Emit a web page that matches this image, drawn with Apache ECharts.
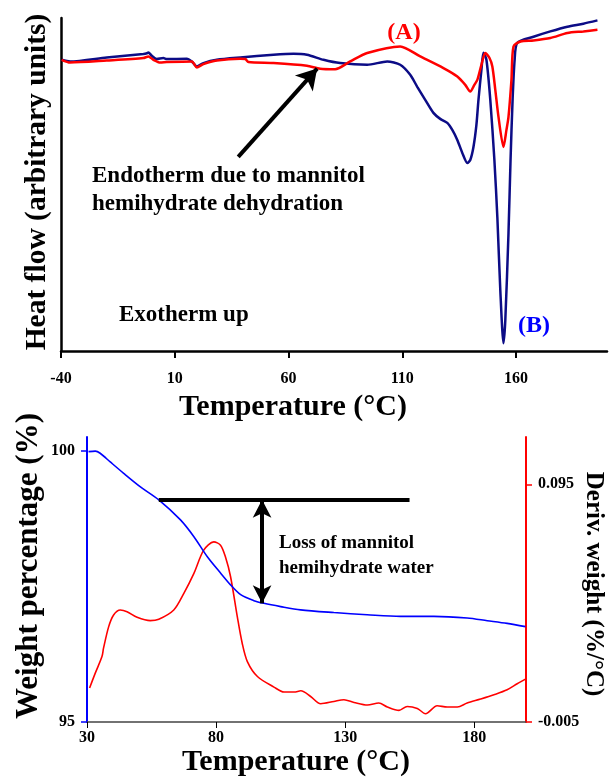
<!DOCTYPE html>
<html>
<head>
<meta charset="utf-8">
<script src="https://cdn.jsdelivr.net/npm/echarts@6/dist/echarts.min.js"></script>
<style>
  html, body { margin: 0; padding: 0; background: #fff; }
  #chart { width: 610px; height: 779px; }
</style>
</head>
<body>
<div id="chart"></div>
<script>
// ---- DSC traces (heat flow, arbitrary units, exotherm up) ----
const dscTempA = [-39.7, -36.0, -19.9, -3.8, -1.6, 0.6, 3.6, 6.5, 17.5, 19.7, 22.6, 28.5, 38.8, 41.0, 42.4, 53.4, 68.1, 73.9, 80.5, 87.1, 94.6, 109.1, 117.9, 128.1, 134.2, 137.7, 139.9, 141.7, 143.0, 144.8, 146.5, 148.3, 149.6, 150.9, 152.3, 154.5, 155.8, 156.7, 158.0, 158.9, 162.0, 167.7, 175.1, 182.6, 189.6, 195.8];
const dscFlowA = [87.45, 86.64, 87.24, 87.97, 88.45, 87.45, 86.64, 86.76, 86.94, 85.14, 86.16, 87.24, 87.76, 87.67, 86.76, 86.46, 85.65, 84.75, 84.60, 86.94, 89.47, 91.46, 88.45, 84.96, 82.43, 79.93, 77.92, 79.93, 81.44, 85.95, 89.47, 88.06, 85.44, 78.43, 70.31, 61.28, 66.40, 70.31, 81.44, 91.46, 92.96, 93.26, 93.98, 95.49, 95.97, 96.48];

const dscTempB = [-39.7, -36.0, -19.9, -3.8, -2.2, -1.6, -0.1, 2.1, 5.0, 6.5, 15.3, 17.5, 19.7, 22.6, 28.5, 38.8, 53.4, 62.2, 68.1, 75.4, 82.7, 94.6, 103.4, 109.1, 113.5, 116.6, 120.1, 123.7, 126.7, 129.8, 132.0, 134.2, 136.4, 138.6, 139.9, 141.3, 142.6, 143.5, 144.8, 145.7, 147.0, 148.7, 150.5, 151.8, 153.1, 154.5, 155.3, 156.7, 157.6, 158.5, 159.4, 160.6, 167.7, 175.1, 182.6, 189.6, 195.8];
const dscFlowB = [87.45, 86.94, 88.15, 89.17, 89.41, 89.65, 88.66, 87.67, 87.97, 87.67, 87.76, 86.94, 85.44, 86.46, 87.45, 88.15, 88.96, 89.26, 88.96, 87.45, 86.46, 85.95, 86.94, 85.95, 82.94, 79.33, 75.42, 71.51, 69.71, 68.50, 66.40, 63.39, 59.48, 56.47, 57.37, 61.28, 67.90, 75.42, 84.45, 89.56, 87.45, 75.42, 57.37, 40.22, 18.26, 2.32, 9.24, 35.41, 57.37, 75.42, 87.45, 92.57, 94.37, 95.97, 97.38, 98.29, 99.28];

const dscTicks = [-40, 10, 60, 110, 160];

// ---- TGA: weight percentage and its derivative ----
const tgaTemp = [30.6, 33.2, 35.1, 39.0, 44.2, 50.7, 57.8, 66.2, 71.4, 76.6, 81.7, 85.6, 89.5, 94.6, 98.5, 105.0, 112.7, 125.6, 138.5, 151.4, 164.3, 177.2, 185.0, 192.7, 199.8];
const tgaWeight = [99.99, 100.0, 99.96, 99.80, 99.59, 99.34, 99.10, 98.73, 98.42, 98.05, 97.75, 97.53, 97.35, 97.24, 97.19, 97.13, 97.07, 97.02, 96.98, 96.95, 96.95, 96.92, 96.87, 96.82, 96.76];

const dtgTemp = [31.0, 33.2, 35.8, 36.4, 38.4, 40.3, 42.9, 45.5, 49.4, 54.5, 57.8, 63.6, 67.5, 71.4, 75.2, 79.1, 81.7, 83.6, 85.6, 88.2, 90.1, 92.1, 96.0, 102.4, 106.3, 110.2, 112.8, 116.6, 120.5, 125.6, 129.5, 133.4, 138.6, 143.0, 146.3, 150.8, 154.0, 157.9, 161.1, 165.6, 169.5, 173.4, 177.2, 182.4, 187.6, 192.7, 196.6, 199.8];
const dtgDeriv = [0.00927, 0.01556, 0.02253, 0.02605, 0.03512, 0.04003, 0.04213, 0.04141, 0.03906, 0.03764, 0.03822, 0.04213, 0.04913, 0.05753, 0.06730, 0.07079, 0.06940, 0.06449, 0.05610, 0.03932, 0.02815, 0.02043, 0.01414, 0.00969, 0.00759, 0.00759, 0.00813, 0.00574, 0.00268, 0.00365, 0.00436, 0.00323, 0.00213, 0.00297, 0.00129, -0.00013, 0.00155, 0.00071, -0.00152, 0.00184, 0.00129, 0.00129, 0.00297, 0.00465, 0.00646, 0.00855, 0.01107, 0.01304];

const tgaTicks = [30, 80, 130, 180];
const weightTicks = [95, 100];
const derivTicks = [-0.005, 0.095];

// Annotation anchors in data units
const dehydArrow = [[37.9, 58.3], [72.6, 84.8]];          // DSC: pointer to the endotherm
const waterLossLevel = { from: 57.8, to: 154.9, weight: 99.10 };
const waterLossArrow = { temp: 97.8, top: 99.10, bottom: 97.19 };

const zip = (xs, ys) => xs.map((x, i) => [x, ys[i]]);

const SERIF = '"Liberation Serif", "Times New Roman", serif';
const NAVY = '#0c0c86';
const RED = '#ff0000';
const BLUE = '#0000ff';

function txt(text, x, y, opts) {
  const o = opts || {};
  return {
    type: 'text',
    x: x, y: y,
    rotation: o.rotation || 0,
    style: {
      text: text,
      fill: o.color || '#000',
      font: 'bold ' + (o.size || 20) + 'px ' + SERIF,
      textAlign: o.align || 'center',
      textVerticalAlign: 'middle'
    },
    z: 100
  };
}

const chart = echarts.init(document.getElementById('chart'), null, { renderer: 'canvas' });

const labelFont = { fontFamily: SERIF, fontWeight: 'bold', fontSize: 16, color: '#000' };

chart.setOption({
  animation: false,
  backgroundColor: '#fff',
  grid: [
    { left: 61, top: 18, width: 546, height: 333 },
    { left: 87, top: 437, width: 439, height: 285 }
  ],
  xAxis: [
    {
      gridIndex: 0, type: 'value', min: -40, max: 200,
      axisLine: { onZero: false, lineStyle: { color: '#000', width: 2.5 } },
      axisTick: { customValues: dscTicks, length: 7, lineStyle: { color: '#000', width: 2 } },
      axisLabel: Object.assign({ customValues: dscTicks, margin: 20 }, labelFont),
      splitLine: { show: false }
    },
    {
      gridIndex: 1, type: 'value', min: 30, max: 200,
      axisLine: { onZero: false, lineStyle: { color: '#444', width: 1.5 } },
      axisTick: { customValues: tgaTicks, length: 6, lineStyle: { color: '#000', width: 1 } },
      axisLabel: Object.assign({ customValues: tgaTicks, margin: 8 }, labelFont),
      splitLine: { show: false }
    }
  ],
  yAxis: [
    {
      gridIndex: 0, type: 'value', min: 0, max: 100,
      axisLine: { show: true, onZero: false, lineStyle: { color: '#000', width: 2.5 } },
      axisTick: { show: false }, axisLabel: { show: false }, splitLine: { show: false }
    },
    {
      gridIndex: 1, type: 'value', min: 95, max: 100.26, position: 'left',
      axisLine: { show: true, onZero: false, lineStyle: { color: BLUE, width: 2 } },
      axisTick: { show: true, customValues: weightTicks, length: 6, lineStyle: { color: BLUE, width: 1.5 } },
      axisLabel: Object.assign({ customValues: weightTicks, margin: 12 }, labelFont),
      splitLine: { show: false }
    },
    {
      gridIndex: 1, type: 'value', min: -0.005, max: 0.1149, position: 'right',
      axisLine: { show: true, onZero: false, lineStyle: { color: RED, width: 2 } },
      axisTick: { show: true, customValues: derivTicks, length: 6, lineStyle: { color: RED, width: 1.5 } },
      axisLabel: Object.assign({ customValues: derivTicks, margin: 12, formatter: v => v.toFixed(3) }, labelFont),
      splitLine: { show: false }
    }
  ],
  series: [
    {
      name: '(B)', type: 'line', xAxisIndex: 0, yAxisIndex: 0,
      data: zip(dscTempB, dscFlowB), showSymbol: false, smooth: 0.25,
      lineStyle: { color: NAVY, width: 2.5 }, z: 3
    },
    {
      name: '(A)', type: 'line', xAxisIndex: 0, yAxisIndex: 0,
      data: zip(dscTempA, dscFlowA), showSymbol: false, smooth: 0.25,
      lineStyle: { color: RED, width: 2.5 }, z: 4,
      markLine: {
        silent: true, animation: false,
        symbol: ['none', 'arrow'], symbolSize: [18, 20],
        lineStyle: { color: '#000', width: 4, type: 'solid' },
        label: { show: false },
        data: [[{ coord: dehydArrow[0] }, { coord: dehydArrow[1] }]]
      }
    },
    {
      name: 'Deriv. weight', type: 'line', xAxisIndex: 1, yAxisIndex: 2,
      data: zip(dtgTemp, dtgDeriv), showSymbol: false, smooth: 0.3,
      lineStyle: { color: RED, width: 1.6 }, z: 3
    },
    {
      name: 'Weight', type: 'line', xAxisIndex: 1, yAxisIndex: 1,
      data: zip(tgaTemp, tgaWeight), showSymbol: false, smooth: 0.3,
      lineStyle: { color: BLUE, width: 1.6 }, z: 4,
      markLine: {
        silent: true, animation: false,
        label: { show: false },
        lineStyle: { color: '#000', width: 4, type: 'solid' },
        data: [
          [{ coord: [waterLossLevel.from, waterLossLevel.weight], symbol: 'none' },
           { coord: [waterLossLevel.to, waterLossLevel.weight], symbol: 'none' }],
          [{ coord: [waterLossArrow.temp, waterLossArrow.top], symbol: 'arrow', symbolSize: [14, 18] },
           { coord: [waterLossArrow.temp, waterLossArrow.bottom], symbol: 'arrow', symbolSize: [14, 18] }]
        ]
      }
    }
  ],
  graphic: [
    // DSC panel text
    txt('Heat flow (arbitrary units)', 37, 182, { size: 29.5, rotation: Math.PI / 2 }),
    txt('Endotherm due to mannitol', 92, 176, { size: 23, align: 'left' }),
    txt('hemihydrate dehydration', 92, 204, { size: 23, align: 'left' }),
    txt('Exotherm up', 119, 315, { size: 23, align: 'left' }),
    txt('(A)', 404, 33, { size: 24, color: RED }),
    txt('(B)', 534, 326, { size: 24, color: BLUE }),
    txt('Temperature (°C)', 293, 407, { size: 30 }),
    // TGA panel text
    txt('Weight percentage (%)', 29, 566, { size: 31, rotation: Math.PI / 2 }),
    txt('Deriv. weight (%/°C)', 593, 584, { size: 25, rotation: -Math.PI / 2 }),
    txt('Loss of mannitol', 279, 543, { size: 19, align: 'left' }),
    txt('hemihydrate water', 279, 568, { size: 19, align: 'left' }),
    txt('Temperature (°C)', 296, 762, { size: 30 })
  ]
});
</script>
</body>
</html>
